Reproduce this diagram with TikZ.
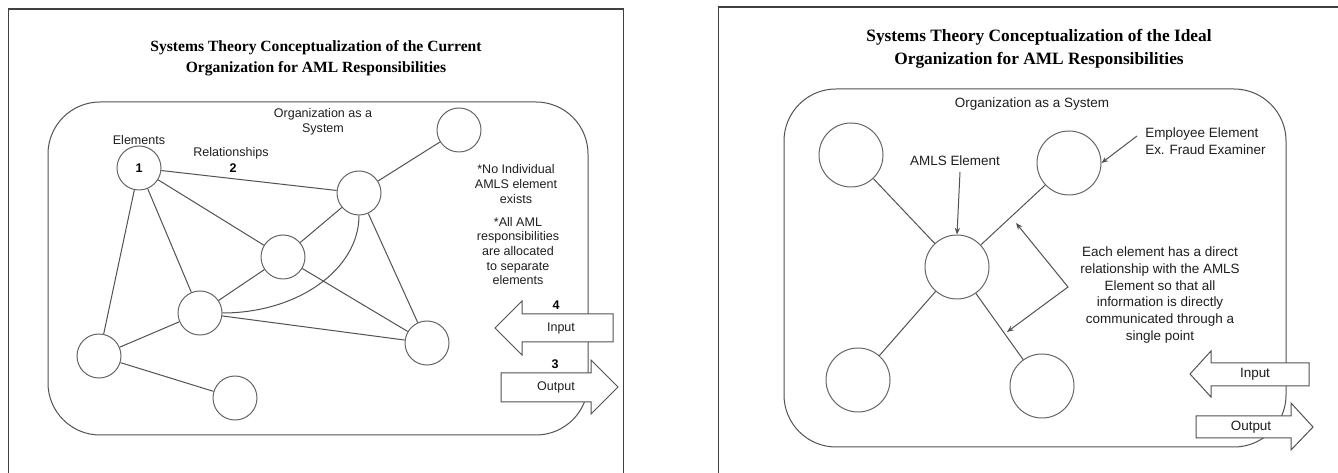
\documentclass[tikz,border=0pt]{standalone}
\usepackage{fontspec}
\setmainfont{Liberation Serif}
\setsansfont{Liberation Sans}
\usetikzlibrary{arrows.meta}
\tikzset{
  ln/.style={draw=black!68, line width=0.75pt},
  frm/.style={draw=black!75, line width=0.8pt},
  sysbox/.style={draw=black!68, line width=0.75pt, rounded corners=39pt},
  elemL/.style={circle, draw=black!60, line width=0.75pt, minimum size=33pt, inner sep=0pt,
                font=\sffamily\bfseries\fontsize{9.4}{11}\selectfont},
  elemR/.style={circle, draw=black!60, line width=0.75pt, minimum size=48pt, inner sep=0pt},
  txtL/.style={font=\sffamily\fontsize{9.4}{11}\selectfont, align=center, inner sep=0pt, text=black!88},
  numL/.style={font=\sffamily\bfseries\fontsize{9.4}{11}\selectfont, inner sep=0pt},
  txtR/.style={font=\sffamily\fontsize{10.1}{12.6}\selectfont, align=center, inner sep=0pt, text=black!88},
  ttlL/.style={font=\bfseries\fontsize{11.7}{15.75}\selectfont, align=center, inner sep=0pt},
  ttlR/.style={font=\bfseries\fontsize{13}{17.25}\selectfont, align=center, inner sep=0pt},
  bigarrow/.style={draw=black!68, line width=0.75pt, fill=white},
  pointer/.style={ln, -{Stealth[length=5pt,width=4pt]}},
  twopointer/.style={ln, {Stealth[length=5pt,width=4pt]}-{Stealth[length=5pt,width=4pt]}}
}
\begin{document}
\begin{tikzpicture}[x=0.75pt, y=-0.75pt]
\useasboundingbox (0,0) rectangle (1338,473);
\fill[white] (0,0) rectangle (1338,473);

% ================= LEFT PANEL =================
\draw[frm] (8.6,473) -- (8.6,9) -- (623.7,9) -- (623.7,473);
\node[ttlL] (titleL) at (316,58.5) {Systems Theory Conceptualization of the Current\\Organization for AML Responsibilities};
\draw[sysbox] (48,102) rectangle (588,435);

\node[txtL] (orgL) at (323,121.5) {Organization as a\\System};
\node[txtL] (elemlbl) at (139,140) {Elements};
\node[txtL] (rellbl) at (231,153) {Relationships};
\node[numL] (two) at (233,168) {2};

\node[elemL] (c1) at (139,168) {1};
\node[elemL] (nTR) at (459,130) {};
\node[elemL] (nMR) at (359,193) {};
\node[elemL] (nC) at (283,257) {};
\node[elemL] (nL) at (200,313) {};
\node[elemL] (nBL) at (99,356) {};
\node[elemL] (nBR) at (427,343) {};
\node[elemL] (nB) at (235,398) {};

\draw[ln] (c1) -- (nMR);
\draw[ln] (c1) -- (nC);
\draw[ln] (c1) -- (nBL);
\draw[ln] (c1) -- (nL);
\draw[ln] (nTR) -- (nMR);
\draw[ln] (nMR) -- (nC);
\draw[ln] (nMR) -- (nBR);
\draw[ln] (nC) -- (nL);
\draw[ln] (nC) -- (nBR);
\draw[ln] (nL) -- (nBL);
\draw[ln] (nL) -- (nBR);
\draw[ln] (nBL) -- (nB);
\draw[ln] (nL.east) .. controls +(75,0) and +(0,54) .. (nMR.south);

\node[txtL] (noind) at (516,184) {*No Individual\\AMLS element\\exists};
\node[txtL] (allaml) at (518,251) {*All AML\\responsibilities\\are allocated\\to separate\\elements};

\node[numL] (four) at (556,305) {4};
\draw[bigarrow] (495,328) -- (522,301) -- (522,314) -- (613,314) -- (613,342) -- (522,342) -- (522,355) -- cycle;
\node[txtL] (inL) at (561,328) {Input};
\node[numL] (three) at (555,364) {3};
\draw[bigarrow] (501,373) -- (591,373) -- (591,360) -- (618,387) -- (591,414) -- (591,402) -- (501,402) -- cycle;
\node[txtL] (outL) at (556,387) {Output};

% ================= RIGHT PANEL =================
\draw[frm] (718.6,473) -- (718.6,7) -- (1338,7);
\node[ttlR] (titleR) at (1039,48.5) {Systems Theory Conceptualization of the Ideal\\Organization for AML Responsibilities};
\draw[sysbox] (784,89) rectangle (1286,447);

\node[txtR] (orgR) at (1032,104) {Organization as a System};

\node[elemR] (tl) at (851,155) {};
\node[elemR] (tr) at (1069,163) {};
\node[elemR] (cen) at (957,267) {};
\node[elemR] (bl) at (858,380) {};
\node[elemR] (br) at (1042,386) {};

\draw[ln] (tl) -- (cen);
\draw[ln] (tr) -- (cen);
\draw[ln] (bl) -- (cen);
\draw[ln] (br) -- (cen);

\node[txtR] (amls) at (955,161) {AMLS Element};
\coordinate (amlsA) at (960,172);
\draw[pointer] (amlsA) -- (cen.north);

\node[txtR, align=left, anchor=west] (emp) at (1145,141.5) {Employee Element\\Ex. Fraud Examiner};
\coordinate (empA) at (1137,136);
\draw[pointer] (empA) -- (tr.east);

\coordinate (bU) at (1016,223);
\coordinate (bA) at (1068,287);
\coordinate (bD) at (1007,332);
\draw[twopointer] (bU) -- (bA) -- (bD);

\node[txtR] (each) at (1160,295) {Each element has a direct\\relationship with the AMLS\\Element so that all\\information is directly\\communicated through a\\single point};

\draw[bigarrow] (1190,374) -- (1211,351) -- (1211,363) -- (1309,363) -- (1309,386) -- (1211,386) -- (1211,397) -- cycle;
\node[txtR] (inR) at (1255,374) {Input};
\draw[bigarrow] (1196,416) -- (1291,416) -- (1291,403) -- (1313,427) -- (1291,450) -- (1291,438) -- (1196,438) -- cycle;
\node[txtR] (outR) at (1251,427) {Output};
\end{tikzpicture}
\end{document}
